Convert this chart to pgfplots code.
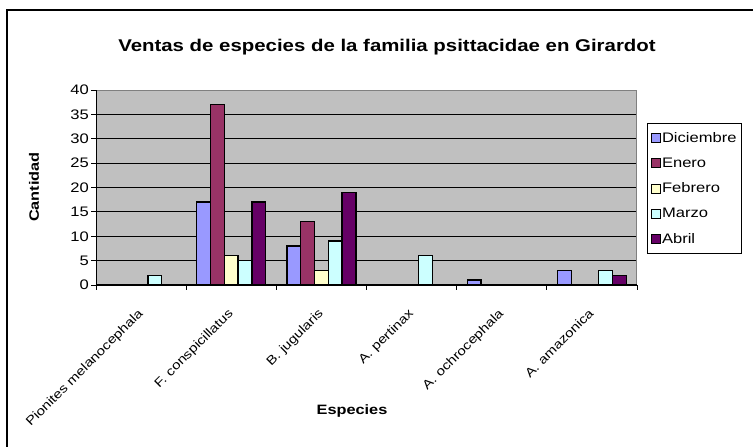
\documentclass[border=0pt]{standalone}
\usepackage{fontspec}
\setmainfont[FakeStretch=1.2]{Liberation Sans}
\usepackage{pgfplots}
\pgfplotsset{compat=1.18}
\definecolor{cDic}{HTML}{9999FF}
\definecolor{cEne}{HTML}{993366}
\definecolor{cFeb}{HTML}{FFFFCC}
\definecolor{cMar}{HTML}{CCFFFF}
\definecolor{cAbr}{HTML}{660066}
\definecolor{cBg}{HTML}{C0C0C0}
\begin{document}
\begin{tikzpicture}[x=1pt,y=1pt]
\useasboundingbox (0,0) rectangle (753,447);
\draw[line width=2pt] (7,0) -- (7,437) -- (753,437);
\node[font=\fontsize{17}{19}\selectfont\bfseries] at (387,400) {Ventas de especies de la familia psittacidae en Girardot};
\node[font=\fontsize{13.6}{15}\selectfont\bfseries, rotate=90] at (34,260) {Cantidad};
\node[font=\fontsize{13.6}{15}\selectfont\bfseries] at (352,36) {Especies};
\begin{axis}[
  at={(96pt,162pt)}, anchor=south west,
  scale only axis, width=541pt, height=195pt,
  xmin=-0.5, xmax=5.5, ymin=0, ymax=40,
  ytick={0,5,...,40},
  ymajorgrids, grid style={black, line width=0.8pt},
  axis background/.style={fill=cBg},
  axis line style={draw=gray, line width=1pt},
  tick align=outside, tick pos=left,
  major tick style={black, line width=0.8pt},
  major tick length=5pt,
  xtick={0,...,5},
  xticklabels={Pionites melanocephala, F. conspicillatus, B. jugularis, A. pertinax, A. ochrocephala, A. amazonica},
  x tick style={draw=none},
  extra x ticks={-0.5,0.5,...,5.5},
  extra x tick labels={},
  extra x tick style={grid=none, major tick length=5pt, x tick style={draw=black, line width=0.8pt}},
  xticklabel style={xshift=-4pt, yshift=-16pt, rotate=45, anchor=north east, font=\fontsize{12.5}{14}\selectfont, inner sep=1pt},
  yticklabel style={font=\fontsize{13.8}{15}\selectfont, inner sep=2pt},
  /pgf/number format/assume math mode=true,
  legend style={at={(1.0185,0.831)}, anchor=north west, draw=black, font=\fontsize{13.8}{15}\selectfont, inner xsep=4pt, inner ysep=8pt, row sep=12pt, cells={anchor=west}, nodes={inner sep=1pt}},
  legend image code/.code={\draw[#1, draw=black, line width=0.8pt] (0pt,-4.5pt) rectangle (9pt,4.5pt);},
  every axis plot/.append style={ybar, bar width=0.153, draw=black, line width=1.3pt},
]
\addplot[fill=cDic, bar shift=-0.306] coordinates {(1,17) (2,8) (4,1) (5,3)};
\addplot[fill=cEne, bar shift=-0.153] coordinates {(1,37) (2,13)};
\addplot[fill=cFeb, bar shift=0] coordinates {(1,6) (2,3)};
\addplot[fill=cMar, bar shift=0.153] coordinates {(0,2) (1,5) (2,9) (3,6) (5,3)};
\addplot[fill=cAbr, bar shift=0.306] coordinates {(1,17) (2,19) (5,2)};
\legend{Diciembre, Enero, Febrero, Marzo, Abril}
\draw[black, line width=1.2pt] (rel axis cs:0,1) -- (rel axis cs:0,0) -- (rel axis cs:1,0);
\end{axis}
\end{tikzpicture}
\end{document}
